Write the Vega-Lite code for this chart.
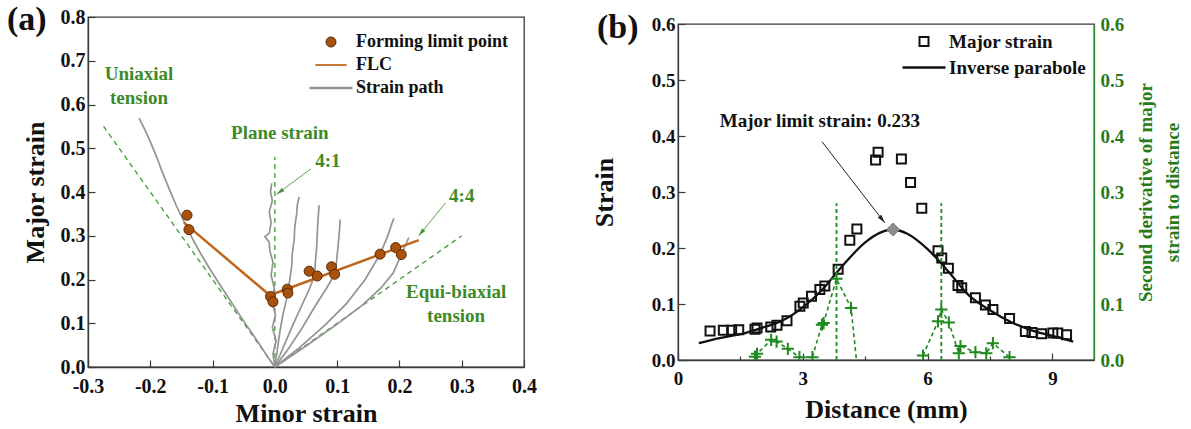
{
  "$schema": "https://vega.github.io/schema/vega-lite/v6.json",
  "background": "white",
  "padding": {"left": 6, "top": 2, "right": 6, "bottom": 4},
  "bounds": "flush",
  "center": true,
  "spacing": 154,
  "config": {
    "font": "Liberation Serif",
    "view": {"stroke": "#3a3a3a", "strokeWidth": 1.3},
    "axis": {
      "labelFont": "Liberation Serif", "labelFontWeight": "bold", "labelColor": "#111", "labelFontSize": 20,
      "titleFont": "Liberation Serif", "titleFontWeight": "bold", "titleColor": "#111", "titleFontSize": 26,
      "domainColor": "#3a3a3a", "domainWidth": 1.3, "tickColor": "#3a3a3a", "tickWidth": 1.2,
      "grid": false, "labelFlush": false, "labelOverlap": false
    },
    "legend": {
      "title": null, "orient": "top-right", "padding": 0, "columns": 1,
      "labelFont": "Liberation Serif", "labelFontWeight": "bold", "labelColor": "#111"
    },
    "title": {"font": "Liberation Serif", "fontWeight": "bold", "fontSize": 34, "color": "#111"},
    "text": {"font": "Liberation Serif"}
  },
  "datasets": {
    "refLinesA": [
      {"line": "uniaxial", "minor": 0, "major": 0}, {"line": "uniaxial", "minor": -0.275, "major": 0.55},
      {"line": "plane", "minor": 0, "major": 0}, {"line": "plane", "minor": 0, "major": 0.48},
      {"line": "equibiaxial", "minor": 0, "major": 0}, {"line": "equibiaxial", "minor": 0.3, "major": 0.3}
    ],
    "strainPaths": [
      {"path": "P1", "i": 0, "minor": 0, "major": 0}, {"path": "P1", "i": 1, "minor": -0.012, "major": 0.024},
      {"path": "P1", "i": 2, "minor": -0.026, "major": 0.055}, {"path": "P1", "i": 3, "minor": -0.042, "major": 0.088},
      {"path": "P1", "i": 4, "minor": -0.058, "major": 0.122}, {"path": "P1", "i": 5, "minor": -0.074, "major": 0.157},
      {"path": "P1", "i": 6, "minor": -0.090, "major": 0.192}, {"path": "P1", "i": 7, "minor": -0.106, "major": 0.228},
      {"path": "P1", "i": 8, "minor": -0.121, "major": 0.264}, {"path": "P1", "i": 9, "minor": -0.134, "major": 0.298},
      {"path": "P1", "i": 10, "minor": -0.146, "major": 0.333}, {"path": "P1", "i": 11, "minor": -0.158, "major": 0.368},
      {"path": "P1", "i": 12, "minor": -0.169, "major": 0.405}, {"path": "P1", "i": 13, "minor": -0.180, "major": 0.443},
      {"path": "P1", "i": 14, "minor": -0.190, "major": 0.481}, {"path": "P1", "i": 15, "minor": -0.200, "major": 0.515},
      {"path": "P1", "i": 16, "minor": -0.209, "major": 0.543}, {"path": "P1", "i": 17, "minor": -0.218, "major": 0.569},
      {"path": "P2", "i": 0, "minor": 0, "major": 0}, {"path": "P2", "i": 1, "minor": -0.003, "major": 0.03},
      {"path": "P2", "i": 2, "minor": 0.002, "major": 0.06}, {"path": "P2", "i": 3, "minor": -0.004, "major": 0.09},
      {"path": "P2", "i": 4, "minor": 0.001, "major": 0.12}, {"path": "P2", "i": 5, "minor": -0.005, "major": 0.15},
      {"path": "P2", "i": 6, "minor": -0.001, "major": 0.18}, {"path": "P2", "i": 7, "minor": -0.006, "major": 0.21},
      {"path": "P2", "i": 8, "minor": -0.003, "major": 0.24}, {"path": "P2", "i": 9, "minor": -0.008, "major": 0.265},
      {"path": "P2", "i": 10, "minor": -0.009, "major": 0.285}, {"path": "P2", "i": 11, "minor": -0.016, "major": 0.298},
      {"path": "P2", "i": 12, "minor": -0.009, "major": 0.306}, {"path": "P2", "i": 13, "minor": -0.006, "major": 0.33},
      {"path": "P2", "i": 14, "minor": -0.009, "major": 0.355}, {"path": "P2", "i": 15, "minor": -0.004, "major": 0.38},
      {"path": "P2", "i": 16, "minor": -0.007, "major": 0.40}, {"path": "P2", "i": 17, "minor": -0.005, "major": 0.42},
      {"path": "P3", "i": 0, "minor": 0, "major": 0}, {"path": "P3", "i": 1, "minor": 0.004, "major": 0.04},
      {"path": "P3", "i": 2, "minor": 0.008, "major": 0.08}, {"path": "P3", "i": 3, "minor": 0.013, "major": 0.12},
      {"path": "P3", "i": 4, "minor": 0.018, "major": 0.15}, {"path": "P3", "i": 5, "minor": 0.021, "major": 0.17},
      {"path": "P3", "i": 6, "minor": 0.024, "major": 0.20}, {"path": "P3", "i": 7, "minor": 0.027, "major": 0.23},
      {"path": "P3", "i": 8, "minor": 0.028, "major": 0.26}, {"path": "P3", "i": 9, "minor": 0.031, "major": 0.29},
      {"path": "P3", "i": 10, "minor": 0.032, "major": 0.32}, {"path": "P3", "i": 11, "minor": 0.035, "major": 0.35},
      {"path": "P3", "i": 12, "minor": 0.036, "major": 0.37}, {"path": "P3", "i": 13, "minor": 0.039, "major": 0.389},
      {"path": "P4", "i": 0, "minor": 0, "major": 0}, {"path": "P4", "i": 1, "minor": 0.012, "major": 0.04},
      {"path": "P4", "i": 2, "minor": 0.027, "major": 0.09}, {"path": "P4", "i": 3, "minor": 0.043, "major": 0.14},
      {"path": "P4", "i": 4, "minor": 0.056, "major": 0.18}, {"path": "P4", "i": 5, "minor": 0.064, "major": 0.21},
      {"path": "P4", "i": 6, "minor": 0.065, "major": 0.24}, {"path": "P4", "i": 7, "minor": 0.067, "major": 0.27},
      {"path": "P4", "i": 8, "minor": 0.068, "major": 0.30}, {"path": "P4", "i": 9, "minor": 0.069, "major": 0.33},
      {"path": "P4", "i": 10, "minor": 0.071, "major": 0.37},
      {"path": "P5", "i": 0, "minor": 0, "major": 0}, {"path": "P5", "i": 1, "minor": 0.02, "major": 0.038},
      {"path": "P5", "i": 2, "minor": 0.042, "major": 0.085}, {"path": "P5", "i": 3, "minor": 0.065, "major": 0.14},
      {"path": "P5", "i": 4, "minor": 0.083, "major": 0.18}, {"path": "P5", "i": 5, "minor": 0.096, "major": 0.212},
      {"path": "P5", "i": 6, "minor": 0.099, "major": 0.24}, {"path": "P5", "i": 7, "minor": 0.101, "major": 0.27},
      {"path": "P5", "i": 8, "minor": 0.103, "major": 0.30}, {"path": "P5", "i": 9, "minor": 0.105, "major": 0.337},
      {"path": "P6", "i": 0, "minor": 0, "major": 0}, {"path": "P6", "i": 1, "minor": 0.04, "major": 0.045},
      {"path": "P6", "i": 2, "minor": 0.08, "major": 0.095}, {"path": "P6", "i": 3, "minor": 0.115, "major": 0.145},
      {"path": "P6", "i": 4, "minor": 0.145, "major": 0.20}, {"path": "P6", "i": 5, "minor": 0.169, "major": 0.258},
      {"path": "P6", "i": 6, "minor": 0.180, "major": 0.295}, {"path": "P6", "i": 7, "minor": 0.186, "major": 0.32},
      {"path": "P6", "i": 8, "minor": 0.191, "major": 0.34},
      {"path": "P7", "i": 0, "minor": 0, "major": 0}, {"path": "P7", "i": 1, "minor": 0.05, "major": 0.048},
      {"path": "P7", "i": 2, "minor": 0.10, "major": 0.098}, {"path": "P7", "i": 3, "minor": 0.14, "major": 0.141},
      {"path": "P7", "i": 4, "minor": 0.17, "major": 0.18}, {"path": "P7", "i": 5, "minor": 0.19, "major": 0.215},
      {"path": "P7", "i": 6, "minor": 0.203, "major": 0.257}, {"path": "P7", "i": 7, "minor": 0.210, "major": 0.28},
      {"path": "P7", "i": 8, "minor": 0.215, "major": 0.296}
    ],
    "formingLimitPoints": [
      {"series": "Forming limit point", "minor": -0.141, "major": 0.347},
      {"series": "Forming limit point", "minor": -0.138, "major": 0.314},
      {"series": "Forming limit point", "minor": -0.007, "major": 0.161},
      {"series": "Forming limit point", "minor": -0.003, "major": 0.149},
      {"series": "Forming limit point", "minor": 0.020, "major": 0.178},
      {"series": "Forming limit point", "minor": 0.021, "major": 0.169},
      {"series": "Forming limit point", "minor": 0.055, "major": 0.219},
      {"series": "Forming limit point", "minor": 0.068, "major": 0.208},
      {"series": "Forming limit point", "minor": 0.091, "major": 0.229},
      {"series": "Forming limit point", "minor": 0.096, "major": 0.212},
      {"series": "Forming limit point", "minor": 0.169, "major": 0.258},
      {"series": "Forming limit point", "minor": 0.194, "major": 0.273},
      {"series": "Forming limit point", "minor": 0.203, "major": 0.257}
    ],
    "flc": [
      {"minor": -0.146, "major": 0.330},
      {"minor": -0.008, "major": 0.164},
      {"minor": 0.231, "major": 0.290}
    ],
    "arrowsA": [
      {"label": "4:1", "minor": 0.058, "major": 0.453, "minor2": 0.003, "major2": 0.395},
      {"label": "4:4", "minor": 0.274, "major": 0.375, "minor2": 0.231, "major2": 0.300}
    ],
    "labelsA": [
      {"text": "Uniaxial\ntension", "minor": -0.218, "major": 0.670},
      {"text": "Plane strain", "minor": 0.008, "major": 0.535},
      {"text": "4:1", "minor": 0.085, "major": 0.471},
      {"text": "4:4", "minor": 0.300, "major": 0.391},
      {"text": "Equi-biaxial\ntension", "minor": 0.291, "major": 0.171}
    ],
    "majorStrain": [
      {"series": "Major strain", "distance": 0.77, "strain": 0.052},
      {"series": "Major strain", "distance": 1.09, "strain": 0.053},
      {"series": "Major strain", "distance": 1.29, "strain": 0.053},
      {"series": "Major strain", "distance": 1.46, "strain": 0.054},
      {"series": "Major strain", "distance": 1.85, "strain": 0.055},
      {"series": "Major strain", "distance": 1.90, "strain": 0.057},
      {"series": "Major strain", "distance": 2.23, "strain": 0.059},
      {"series": "Major strain", "distance": 2.38, "strain": 0.062},
      {"series": "Major strain", "distance": 2.62, "strain": 0.070},
      {"series": "Major strain", "distance": 2.93, "strain": 0.096},
      {"series": "Major strain", "distance": 3.01, "strain": 0.102},
      {"series": "Major strain", "distance": 3.21, "strain": 0.114},
      {"series": "Major strain", "distance": 3.41, "strain": 0.126},
      {"series": "Major strain", "distance": 3.53, "strain": 0.132},
      {"series": "Major strain", "distance": 3.85, "strain": 0.162},
      {"series": "Major strain", "distance": 4.13, "strain": 0.214},
      {"series": "Major strain", "distance": 4.30, "strain": 0.234},
      {"series": "Major strain", "distance": 4.75, "strain": 0.357},
      {"series": "Major strain", "distance": 4.81, "strain": 0.371},
      {"series": "Major strain", "distance": 5.37, "strain": 0.359},
      {"series": "Major strain", "distance": 5.59, "strain": 0.317},
      {"series": "Major strain", "distance": 5.86, "strain": 0.271},
      {"series": "Major strain", "distance": 6.25, "strain": 0.195},
      {"series": "Major strain", "distance": 6.34, "strain": 0.182},
      {"series": "Major strain", "distance": 6.50, "strain": 0.164},
      {"series": "Major strain", "distance": 6.73, "strain": 0.133},
      {"series": "Major strain", "distance": 6.82, "strain": 0.129},
      {"series": "Major strain", "distance": 7.15, "strain": 0.111},
      {"series": "Major strain", "distance": 7.39, "strain": 0.098},
      {"series": "Major strain", "distance": 7.57, "strain": 0.090},
      {"series": "Major strain", "distance": 7.97, "strain": 0.074},
      {"series": "Major strain", "distance": 8.35, "strain": 0.051},
      {"series": "Major strain", "distance": 8.51, "strain": 0.049},
      {"series": "Major strain", "distance": 8.74, "strain": 0.047},
      {"series": "Major strain", "distance": 9.01, "strain": 0.048},
      {"series": "Major strain", "distance": 9.13, "strain": 0.048},
      {"series": "Major strain", "distance": 9.34, "strain": 0.045}
    ],
    "inverseParabole": [
      {"distance": 0.5, "strain": 0.030}, {"distance": 1.0, "strain": 0.039},
      {"distance": 1.5, "strain": 0.046}, {"distance": 2.0, "strain": 0.057},
      {"distance": 2.5, "strain": 0.070}, {"distance": 3.0, "strain": 0.094},
      {"distance": 3.5, "strain": 0.128}, {"distance": 3.8, "strain": 0.155},
      {"distance": 4.0, "strain": 0.172}, {"distance": 4.5, "strain": 0.210},
      {"distance": 4.85, "strain": 0.227}, {"distance": 5.17, "strain": 0.233},
      {"distance": 5.5, "strain": 0.226}, {"distance": 6.0, "strain": 0.198},
      {"distance": 6.3, "strain": 0.175}, {"distance": 6.5, "strain": 0.158},
      {"distance": 7.0, "strain": 0.115}, {"distance": 7.5, "strain": 0.089},
      {"distance": 8.0, "strain": 0.068}, {"distance": 8.5, "strain": 0.053},
      {"distance": 9.0, "strain": 0.043}, {"distance": 9.5, "strain": 0.033}
    ],
    "limitStrain": [{"distance": 5.17, "strain": 0.233}],
    "arrowB": [{"distance": 3.46, "strain": 0.390, "distance2": 4.97, "strain2": 0.245}],
    "labelB": [{"text": "Major limit strain: 0.233", "distance": 3.41, "strain": 0.427}],
    "secondDerivative": [
      {"group": "L", "distance": 1.85, "d2": 0.006}, {"group": "L", "distance": 1.90, "d2": 0.011},
      {"group": "L", "distance": 2.24, "d2": 0.036}, {"group": "L", "distance": 2.37, "d2": 0.033},
      {"group": "L", "distance": 2.64, "d2": 0.020}, {"group": "L", "distance": 2.92, "d2": 0.005},
      {"group": "L", "distance": 3.23, "d2": 0.005}, {"group": "L", "distance": 3.46, "d2": 0.063},
      {"group": "L", "distance": 3.50, "d2": 0.066}, {"group": "L", "distance": 3.81, "d2": 0.145},
      {"group": "L", "distance": 4.16, "d2": 0.093}, {"group": "L", "distance": 4.36, "d2": -0.05},
      {"group": "R", "distance": 5.89, "d2": 0.008}, {"group": "R", "distance": 6.25, "d2": 0.069},
      {"group": "R", "distance": 6.33, "d2": 0.090}, {"group": "R", "distance": 6.51, "d2": 0.067},
      {"group": "R", "distance": 6.75, "d2": 0.012}, {"group": "R", "distance": 6.79, "d2": 0.025},
      {"group": "R", "distance": 7.15, "d2": 0.014}, {"group": "R", "distance": 7.41, "d2": 0.012},
      {"group": "R", "distance": 7.57, "d2": 0.030}, {"group": "R", "distance": 7.97, "d2": 0.005}
    ],
    "necking": [
      {"distance": 3.81, "d2": 0, "d2top": 0.28},
      {"distance": 6.33, "d2": 0, "d2top": 0.28}
    ]
  },
  "resolve": {"scale": {"color": "independent", "shape": "independent", "size": "independent", "stroke": "independent", "strokeWidth": "independent"}},
  "hconcat": [
    {
      "width": 436,
      "height": 350,
      "title": {"text": "(a)", "frame": "group", "anchor": "start", "dx": -81, "dy": 57, "baseline": "alphabetic", "offset": 0},
      "layer": [
        {
          "data": {"name": "refLinesA"},
          "mark": {"type": "line", "stroke": "#3f9b35", "strokeWidth": 1.3, "strokeDash": [5, 4]},
          "encoding": {
            "x": {
              "field": "minor", "type": "quantitative",
              "scale": {"domain": [-0.3, 0.4], "nice": false, "zero": false},
              "axis": {
                "title": "Minor strain",
                "values": [-0.3, -0.25, -0.2, -0.15, -0.1, -0.05, 0, 0.05, 0.1, 0.15, 0.2, 0.25, 0.3, 0.35, 0.4],
                "labelExpr": "abs(datum.value*10 - round(datum.value*10)) < 0.01 ? replace(format(datum.value, '.1f'), '\u2212', '-') : ''",
                "tickSize": {"condition": {"test": "abs(datum.value*10 - round(datum.value*10)) < 0.01", "value": -7}, "value": -4},
                "labelPadding": 16,
                "titlePadding": 4
              }
            },
            "y": {
              "field": "major", "type": "quantitative",
              "scale": {"domain": [0, 0.8], "nice": false},
              "axis": {
                "title": "Major strain",
                "values": [0, 0.05, 0.1, 0.15, 0.2, 0.25, 0.3, 0.35, 0.4, 0.45, 0.5, 0.55, 0.6, 0.65, 0.7, 0.75, 0.8],
                "labelExpr": "abs(datum.value*10 - round(datum.value*10)) < 0.01 ? format(datum.value, '.1f') : ''",
                "tickSize": {"condition": {"test": "abs(datum.value*10 - round(datum.value*10)) < 0.01", "value": -7}, "value": -4},
                "labelPadding": 10,
                "titlePadding": 12
              }
            },
            "detail": {"field": "line"}
          }
        },
        {
          "data": {"name": "strainPaths"},
          "mark": {"type": "line", "stroke": "#939393", "strokeWidth": 1.7},
          "encoding": {
            "x": {"field": "minor", "type": "quantitative"},
            "y": {"field": "major", "type": "quantitative"},
            "detail": {"field": "path"},
            "order": {"field": "i"}
          }
        },
        {
          "data": {"name": "flc"},
          "mark": {"type": "line", "stroke": "#c0661c", "strokeWidth": 2.5},
          "encoding": {
            "x": {"field": "minor", "type": "quantitative"},
            "y": {"field": "major", "type": "quantitative"}
          }
        },
        {
          "data": {"name": "formingLimitPoints"},
          "mark": {"type": "point", "filled": true, "fill": "#a8520f", "opacity": 1},
          "encoding": {
            "x": {"field": "minor", "type": "quantitative"},
            "y": {"field": "major", "type": "quantitative"},
            "stroke": {
              "field": "series", "type": "nominal",
              "scale": {"domain": ["Forming limit point", "FLC", "Strain path"], "range": ["#5c2a00", "#c0661c", "#939393"]},
              "legend": {"offset": 16, "labelFontSize": 18, "labelOffset": 2, "rowPadding": 5, "clipHeight": 18}
            },
            "shape": {
              "field": "series", "type": "nominal",
              "scale": {"domain": ["Forming limit point", "FLC", "Strain path"], "range": ["circle", "stroke", "stroke"]},
              "legend": {"offset": 16, "labelFontSize": 18, "labelOffset": 2, "rowPadding": 5, "clipHeight": 18}
            },
            "size": {
              "field": "series", "type": "nominal",
              "scale": {"domain": ["Forming limit point", "FLC", "Strain path"], "range": [100, 1850, 1850]},
              "legend": {"offset": 16, "labelFontSize": 18, "labelOffset": 2, "rowPadding": 5, "clipHeight": 18}
            },
            "strokeWidth": {
              "field": "series", "type": "nominal",
              "scale": {"domain": ["Forming limit point", "FLC", "Strain path"], "range": [1, 2.5, 1.7]},
              "legend": {"offset": 16, "labelFontSize": 18, "labelOffset": 2, "rowPadding": 5, "clipHeight": 18}
            }
          }
        },
        {
          "data": {"name": "arrowsA"},
          "mark": {"type": "rule", "stroke": "#5aa845", "strokeWidth": 1},
          "encoding": {
            "x": {"field": "minor", "type": "quantitative"},
            "y": {"field": "major", "type": "quantitative"},
            "x2": {"field": "minor2"},
            "y2": {"field": "major2"}
          }
        },
        {
          "data": {"name": "arrowsA"},
          "transform": [{"filter": "datum.label === '4:1'"}],
          "mark": {"type": "point", "shape": "M0,0L-0.4,1.5L0.4,1.5Z", "filled": true, "fill": "#3f9b35", "size": 110, "angle": 234, "opacity": 1},
          "encoding": {
            "x": {"field": "minor2", "type": "quantitative"},
            "y": {"field": "major2", "type": "quantitative"}
          }
        },
        {
          "data": {"name": "arrowsA"},
          "transform": [{"filter": "datum.label === '4:4'"}],
          "mark": {"type": "point", "shape": "M0,0L-0.4,1.5L0.4,1.5Z", "filled": true, "fill": "#3f9b35", "size": 110, "angle": 219, "opacity": 1},
          "encoding": {
            "x": {"field": "minor2", "type": "quantitative"},
            "y": {"field": "major2", "type": "quantitative"}
          }
        },
        {
          "data": {"name": "labelsA"},
          "mark": {"type": "text", "font": "Liberation Serif", "fontWeight": "bold", "fontSize": 19, "fill": "#3d8a28", "align": "center", "baseline": "middle", "lineBreak": "\n", "lineHeight": 24},
          "encoding": {
            "x": {"field": "minor", "type": "quantitative"},
            "y": {"field": "major", "type": "quantitative"},
            "text": {"field": "text"}
          }
        }
      ]
    },
    {
      "width": 416,
      "height": 336,
      "title": {"text": "(b)", "frame": "group", "anchor": "start", "dx": -81, "dy": 57, "baseline": "alphabetic", "offset": 0},
      "resolve": {"scale": {"y": "independent"}},
      "layer": [
        {
          "layer": [
            {
              "data": {"name": "majorStrain"},
              "mark": {"type": "point", "filled": false, "stroke": "#111111", "opacity": 1},
              "encoding": {
                "x": {
                  "field": "distance", "type": "quantitative",
                  "scale": {"domain": [0, 10], "nice": false, "zero": false},
                  "axis": {
                    "title": "Distance (mm)",
                    "values": [0, 1.5, 3, 4.5, 6, 7.5, 9],
                    "labelExpr": "datum.value % 3 === 0 ? format(datum.value, 'd') : ''",
                    "tickSize": {"condition": {"test": "datum.value % 3 === 0", "value": -7}, "value": -4},
                    "labelFontSize": 19,
                    "labelPadding": 16,
                    "titlePadding": 5
                  }
                },
                "y": {
                  "field": "strain", "type": "quantitative",
                  "scale": {"domain": [0, 0.6], "nice": false},
                  "axis": {
                    "title": "Strain",
                    "orient": "left",
                    "values": [0, 0.05, 0.1, 0.15, 0.2, 0.25, 0.3, 0.35, 0.4, 0.45, 0.5, 0.55, 0.6],
                    "labelExpr": "abs(datum.value*10 - round(datum.value*10)) < 0.01 ? format(datum.value, '.1f') : ''",
                    "tickSize": {"condition": {"test": "abs(datum.value*10 - round(datum.value*10)) < 0.01", "value": -7}, "value": -4},
                    "labelFontSize": 19,
                    "labelPadding": 10,
                    "titlePadding": 34
                  }
                },
                "shape": {
                  "field": "series", "type": "nominal",
                  "scale": {"domain": ["Major strain", "Inverse parabole"], "range": ["square", "stroke"]},
                  "legend": {"offset": 8, "labelFontSize": 19, "labelOffset": 2, "rowPadding": 6, "clipHeight": 19}
                },
                "size": {
                  "field": "series", "type": "nominal",
                  "scale": {"domain": ["Major strain", "Inverse parabole"], "range": [81, 1850]},
                  "legend": {"offset": 8, "labelFontSize": 19, "labelOffset": 2, "rowPadding": 6, "clipHeight": 19}
                },
                "strokeWidth": {
                  "field": "series", "type": "nominal",
                  "scale": {"domain": ["Major strain", "Inverse parabole"], "range": [2, 2.5]},
                  "legend": {"offset": 8, "labelFontSize": 19, "labelOffset": 2, "rowPadding": 6, "clipHeight": 19}
                }
              }
            },
            {
              "data": {"name": "inverseParabole"},
              "mark": {"type": "line", "stroke": "#111111", "strokeWidth": 2.3, "interpolate": "monotone"},
              "encoding": {
                "x": {"field": "distance", "type": "quantitative"},
                "y": {"field": "strain", "type": "quantitative"}
              }
            },
            {
              "data": {"name": "limitStrain"},
              "mark": {"type": "point", "shape": "diamond", "filled": true, "fill": "#8c8c8c", "stroke": "#7a7a7a", "strokeWidth": 1, "size": 170, "opacity": 1},
              "encoding": {
                "x": {"field": "distance", "type": "quantitative"},
                "y": {"field": "strain", "type": "quantitative"}
              }
            },
            {
              "data": {"name": "arrowB"},
              "mark": {"type": "rule", "stroke": "#222222", "strokeWidth": 1},
              "encoding": {
                "x": {"field": "distance", "type": "quantitative"},
                "y": {"field": "strain", "type": "quantitative"},
                "x2": {"field": "distance2"},
                "y2": {"field": "strain2"}
              }
            },
            {
              "data": {"name": "arrowB"},
              "mark": {"type": "point", "shape": "M0,0L-0.4,1.5L0.4,1.5Z", "filled": true, "fill": "#222222", "size": 130, "angle": 142.5, "opacity": 1},
              "encoding": {
                "x": {"field": "distance2", "type": "quantitative"},
                "y": {"field": "strain2", "type": "quantitative"}
              }
            },
            {
              "data": {"name": "labelB"},
              "mark": {"type": "text", "font": "Liberation Serif", "fontWeight": "bold", "fontSize": 19, "fill": "#111111", "align": "center", "baseline": "middle"},
              "encoding": {
                "x": {"field": "distance", "type": "quantitative"},
                "y": {"field": "strain", "type": "quantitative"},
                "text": {"field": "text"}
              }
            }
          ]
        },
        {
          "layer": [
            {
              "data": {"name": "necking"},
              "mark": {"type": "rule", "stroke": "#1f8a1f", "strokeWidth": 1.8, "strokeDash": [4, 3]},
              "encoding": {
                "x": {"field": "distance", "type": "quantitative"},
                "y": {
                  "field": "d2", "type": "quantitative",
                  "scale": {"domain": [0, 0.6], "nice": false},
                  "axis": {
                    "orient": "right",
                    "title": ["Second derivative of major", "strain to distance"],
                    "values": [0, 0.1, 0.2, 0.3, 0.4, 0.5, 0.6],
                    "format": ".1f",
                    "ticks": false,
                    "labelFontSize": 19,
                    "labelColor": "#2a7a1a",
                    "labelPadding": 6,
                    "domainColor": "#2a8a2a",
                    "titleColor": "#2a7a1a",
                    "titleFontSize": 19,
                    "titleLineHeight": 27,
                    "titleAngle": 270,
                    "titleBaseline": "top",
                    "titlePadding": -14
                  }
                },
                "y2": {"field": "d2top"}
              }
            },
            {
              "data": {"name": "secondDerivative"},
              "mark": {"type": "line", "stroke": "#1f8a1f", "strokeWidth": 1.6, "strokeDash": [4, 3], "clip": true},
              "encoding": {
                "x": {"field": "distance", "type": "quantitative"},
                "y": {"field": "d2", "type": "quantitative"},
                "detail": {"field": "group"}
              }
            },
            {
              "data": {"name": "secondDerivative"},
              "mark": {"type": "point", "shape": "M-1,0L1,0M0,-1L0,1", "filled": false, "stroke": "#1f8a1f", "strokeWidth": 2, "size": 150, "opacity": 1, "clip": true},
              "encoding": {
                "x": {"field": "distance", "type": "quantitative"},
                "y": {"field": "d2", "type": "quantitative"}
              }
            }
          ]
        }
      ]
    }
  ]
}
